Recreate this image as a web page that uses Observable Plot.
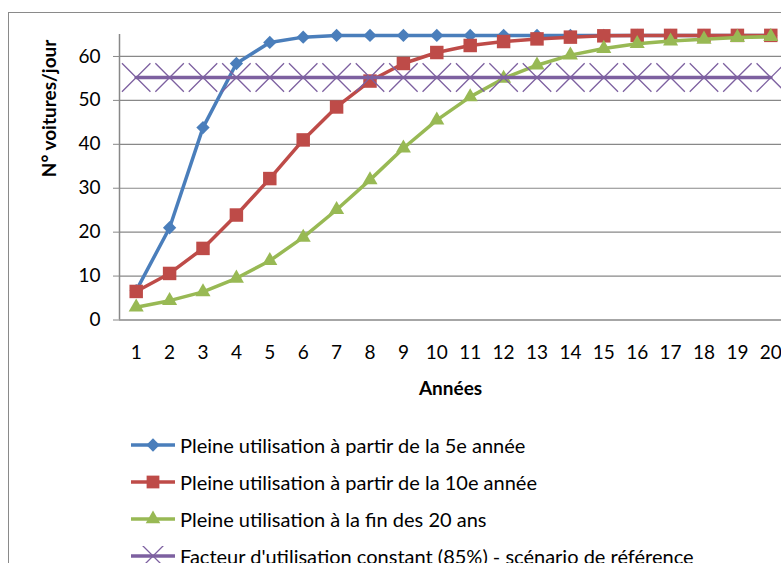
<!DOCTYPE html>
<html>
<head>
<meta charset="utf-8">
<script src="https://cdn.jsdelivr.net/npm/d3@7"></script>
<script src="https://cdn.jsdelivr.net/npm/@observablehq/plot@0.6"></script>
<style>
  html, body { margin: 0; padding: 0; background: #fff; }
  #wrap { position: relative; width: 781px; height: 563px; overflow: hidden; background: #fff; font-family: Lato, "Open Sans", sans-serif; }
  #frame { position: absolute; left: 8px; top: 12px; width: 800px; height: 600px; border-left: 1.5px solid #8a8a8a; border-top: 1.5px solid #8a8a8a; box-sizing: border-box; }
  #chart { position: absolute; left: 0; top: 0; }
  #legend { position: absolute; left: 130px; top: 426px; }
  .row { display: flex; align-items: center; height: 37px; font-size: 20px; color: #000; white-space: nowrap; }
  .row svg { display: block; margin-right: 4px; flex: none; }
</style>
</head>
<body>
<div id="wrap">
  <div id="frame"></div>
  <div id="chart"></div>
  <div id="legend"></div>
</div>
<script>
const years = [1,2,3,4,5,6,7,8,9,10,11,12,13,14,15,16,17,18,19,20];
const yTicks = [0,10,20,30,40,50,60];
const seriesNames = [
  "Pleine utilisation à partir de la 5e année",
  "Pleine utilisation à partir de la 10e année",
  "Pleine utilisation à la fin des 20 ans",
  "Facteur d'utilisation constant (85%) - scénario de référence"
];
const pleine5  = [6.7,21.0,43.8,58.4,63.2,64.4,64.8,64.8,64.8,64.8,64.8,64.8,64.8,64.8,64.8,64.8,64.8,64.8,64.8,64.8];
const pleine10 = [6.5,10.6,16.3,23.9,32.2,41.0,48.5,54.4,58.4,60.9,62.5,63.4,64.0,64.4,64.7,64.8,64.8,64.8,64.8,64.8];
const pleine20 = [2.9,4.4,6.4,9.5,13.5,18.8,25.1,31.9,39.1,45.5,50.8,55.0,58.0,60.3,61.8,62.9,63.5,63.9,64.3,64.5];
const constant85 = [55.2,55.2,55.2,55.2,55.2,55.2,55.2,55.2,55.2,55.2,55.2,55.2,55.2,55.2,55.2,55.2,55.2,55.2,55.2,55.2];
const colors = ["#4A7EBB", "#BE4B48", "#98B954", "#7D60A0"];
const xLabel = "Années";
const yLabel = "N° voitures/jour";

const values = [pleine5, pleine10, pleine20, constant85];
const symbols = ["diamond2", "square", "triangle", "times"];
const radii = [6, 7.6, 5.6, 13];

const seriesData = values.map((vals, i) => years.map((yr, j) => ({year: yr, value: vals[j], series: seriesNames[i]})));

const marks = [
  Plot.ruleY(yTicks.slice(1), {stroke: "#888", strokeWidth: 1.2}),
  Plot.ruleY([0], {stroke: "#888", strokeWidth: 1.5}),
  Plot.ruleX([0.5], {y1: 0, y2: 65, stroke: "#888", strokeWidth: 1.5}),
  Plot.axisY({ticks: yTicks, tickSize: 6, tickPadding: 13, stroke: "#888", fill: "#000", fontSize: 19, label: null}),
  Plot.axisX({ticks: years, tickSize: 0, tickPadding: 25, fill: "#000", fontSize: 19, tickFormat: d => String(d), label: null}),
  Plot.text([yLabel], {frameAnchor: "left", dx: -70, rotate: -90, fontWeight: "bold", fontSize: 19, fill: "#000"}),
  Plot.text([xLabel], {frameAnchor: "bottom", dy: 75, fontWeight: "bold", fontSize: 19, fill: "#000"})
];
seriesData.forEach((d, i) => {
  marks.push(Plot.line(d, {x: "year", y: "value", stroke: colors[i], strokeWidth: 3.5, curve: "linear"}));
  if (symbols[i] === "times") {
    marks.push(Plot.dot(d, {x: "year", y: "value", symbol: "times", r: radii[i], stroke: colors[i], strokeWidth: 1.3}));
  } else {
    marks.push(Plot.dot(d, {x: "year", y: "value", symbol: symbols[i], r: radii[i], fill: colors[i], stroke: "none"}));
  }
});

const chart = Plot.plot({
  width: 781,
  height: 420,
  marginLeft: 119,
  marginRight: 0,
  marginTop: 34,
  marginBottom: 100.5,
  style: {fontFamily: "Lato, 'Open Sans', sans-serif", fontSize: "19px", background: "transparent", color: "#000", overflow: "visible"},
  x: {type: "linear", domain: [0.5, 20.5], range: [119, 787]},
  y: {type: "linear", domain: [0, 65], range: [319.5, 34]},
  marks
});
document.getElementById("chart").appendChild(chart);

// Legend
const legend = document.getElementById("legend");
const ns = "http://www.w3.org/2000/svg";
const d3symbols = [d3.symbolDiamond2, d3.symbolSquare, d3.symbolTriangle, d3.symbolTimes];
const legendRadii = [6, 7.2, 5.4, 11];
seriesNames.forEach((name, i) => {
  const row = document.createElement("div");
  row.className = "row";
  const svg = document.createElementNS(ns, "svg");
  svg.setAttribute("width", 46);
  svg.setAttribute("height", 20);
  const line = document.createElementNS(ns, "line");
  line.setAttribute("x1", 1); line.setAttribute("x2", 45);
  line.setAttribute("y1", 10); line.setAttribute("y2", 10);
  line.setAttribute("stroke", colors[i]); line.setAttribute("stroke-width", 3.5);
  svg.appendChild(line);
  const path = document.createElementNS(ns, "path");
  const size = Math.PI * legendRadii[i] * legendRadii[i];
  path.setAttribute("d", d3.symbol(d3symbols[i], size)());
  path.setAttribute("transform", "translate(23,10)");
  if (i === 3) { path.setAttribute("fill", "none"); path.setAttribute("stroke", colors[i]); path.setAttribute("stroke-width", 1.3); }
  else { path.setAttribute("fill", colors[i]); }
  svg.appendChild(path);
  row.appendChild(svg);
  const span = document.createElement("span");
  span.textContent = name;
  row.appendChild(span);
  legend.appendChild(row);
});
</script>
</body>
</html>
